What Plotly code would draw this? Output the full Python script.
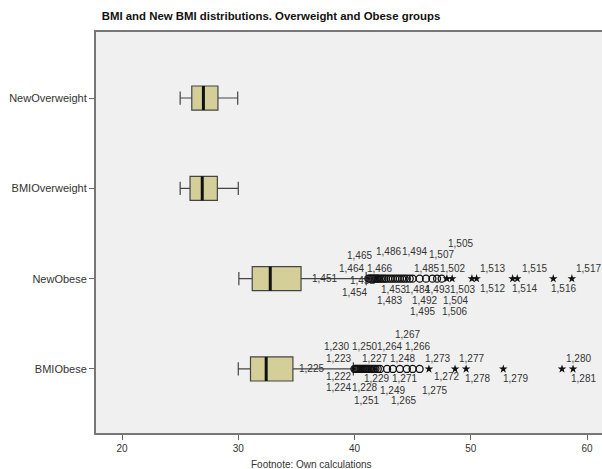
import plotly.graph_objects as go

# ---------------- data ----------------
categories = ["BMIObese", "NewObese", "BMIOverweight", "NewOverweight"]
q1 = [31.05, 31.2, 25.85, 26.0]
median = [32.4, 32.75, 26.9, 27.0]
q3 = [34.7, 35.4, 28.2, 28.25]
lower_whisker = [30.0, 30.05, 25.0, 25.0]
upper_whisker = [39.9, 41.0, 30.0, 29.95]

# outliers (circles) and extreme values (stars)
bmiobese_out = [40.0, 40.1, 40.2, 40.3, 40.4, 40.5, 40.6, 40.7, 40.8, 40.9, 41.0,
                41.1, 41.2, 41.35, 41.5, 41.65, 41.8, 42.0, 42.2, 42.8, 43.3,
                43.9, 44.5, 45.0, 45.6]
bmiobese_ext = [46.4, 48.65, 49.6, 52.8, 57.85, 58.8]
newobese_out = [41.2, 41.3, 41.4, 41.5, 41.6, 41.7, 41.8, 41.9, 42.0, 42.1, 42.25,
                42.4, 42.55, 42.7, 42.9, 43.1, 43.3, 43.5, 43.7, 43.9, 44.1,
                44.3, 44.5, 44.75, 45.0, 45.6, 46.15, 46.7, 47.1, 47.5]
newobese_ext = [47.95, 48.4, 50.1, 50.5, 53.6, 54.0, 57.1, 58.7]

# case labels: text, x value, vertical offset (px)
newobese_labels = [
    ("1,465", 40.47, 23), ("1,486", 42.88, 27), ("1,494", 45.20, 27),
    ("1,507", 47.44, 24), ("1,505", 49.08, 35),
    ("1,464", 39.78, 10), ("1,466", 42.19, 10), ("1,485", 46.15, 10),
    ("1,502", 48.47, 10), ("1,513", 51.91, 10), ("1,515", 55.44, 10),
    ("1,517", 60.17, 10),
    ("1,451", 37.38, 0), ("1,452", 40.65, -2),
    ("1,454", 39.96, -14), ("1,453", 43.31, -11), ("1,484", 45.46, -11),
    ("1,493", 47.10, -11), ("1,503", 49.25, -11), ("1,512", 51.83, -10),
    ("1,514", 54.58, -10), ("1,516", 58.02, -10),
    ("1,483", 42.97, -22), ("1,492", 46.06, -22), ("1,504", 48.65, -22),
    ("1,495", 45.89, -33), ("1,506", 48.56, -33),
]
bmiobese_labels = [
    ("1,267", 44.60, 34),
    ("1,230", 38.49, 22), ("1,250", 40.82, 22), ("1,264", 43.05, 22),
    ("1,266", 45.46, 22),
    ("1,223", 38.58, 10), ("1,227", 41.68, 10), ("1,248", 44.09, 10),
    ("1,273", 47.18, 10), ("1,277", 50.02, 10), ("1,280", 59.23, 10),
    ("1,225", 36.26, 0),
    ("1,222", 38.58, -8), ("1,229", 41.85, -10), ("1,271", 44.26, -10),
    ("1,272", 47.87, -8), ("1,278", 50.62, -10), ("1,279", 53.81, -10),
    ("1,281", 59.74, -10),
    ("1,224", 38.58, -19), ("1,228", 40.90, -19), ("1,249", 43.23, -22),
    ("1,275", 46.84, -22),
    ("1,251", 40.99, -32), ("1,265", 44.18, -32),
]

title = "BMI and New BMI distributions. Overweight and Obese groups"
footnote = "Footnote: Own calculations"

# ---------------- figure ----------------
FONT = "Liberation Sans, Arial, sans-serif"
W, H = 602, 469
ML, MR, MT, MB = 96, 0, 32, 36
PW, PH = W - ML - MR, H - MT - MB
pos = list(range(len(categories)))
half = 0.133

fig = go.Figure()
fig.add_trace(go.Box(
    y=pos, q1=q1, median=median, q3=q3,
    lowerfence=lower_whisker, upperfence=upper_whisker,
    orientation="h", width=2 * half, whiskerwidth=0.55,
    fillcolor="#d4cf98", line=dict(color="#444444", width=1.2),
    boxpoints=False, hoverinfo="skip", showlegend=False,
))

# thick median lines
mx, my = [], []
for p, m in zip(pos, median):
    mx += [m, m, None]
    my += [p - half, p + half, None]
fig.add_trace(go.Scatter(x=mx, y=my, mode="lines",
                         line=dict(color="#111111", width=3),
                         hoverinfo="skip", showlegend=False))

idx = {c: i for i, c in enumerate(categories)}
for cat, outs, exts in [("BMIObese", bmiobese_out, bmiobese_ext),
                        ("NewObese", newobese_out, newobese_ext)]:
    fig.add_trace(go.Scatter(
        x=outs, y=[idx[cat]] * len(outs), mode="markers",
        marker=dict(symbol="circle-open", size=7, color="#111111",
                    line=dict(width=1.3)),
        hoverinfo="skip", showlegend=False))
    fig.add_trace(go.Scatter(
        x=exts, y=[idx[cat]] * len(exts), mode="markers",
        marker=dict(symbol="star", size=6.5, color="#111111"),
        hoverinfo="skip", showlegend=False))

annotations = []
for cat, labels in [("NewObese", newobese_labels), ("BMIObese", bmiobese_labels)]:
    for txt, xv, dy in labels:
        annotations.append(dict(
            x=xv, y=idx[cat], xref="x", yref="y", text=txt, showarrow=False,
            yshift=dy, font=dict(family=FONT, size=10, color="#333333")))

annotations.append(dict(
    x=(311 - ML) / PW, y=-(464 - (MT + PH)) / PH, xref="paper", yref="paper",
    text=footnote, showarrow=False, xanchor="center", yanchor="middle",
    font=dict(family=FONT, size=10, color="#333333")))

fig.update_layout(
    width=W, height=H,
    margin=dict(l=ML, r=MR, t=MT, b=MB),
    paper_bgcolor="white", plot_bgcolor="#f0f0f0",
    title=dict(text=f"<b>{title}</b>", x=271 / W, xanchor="center",
               y=1 - 16 / H, yanchor="middle",
               font=dict(family=FONT, size=11.4, color="#111111")),
    xaxis=dict(range=[17.76, 61.29], tickvals=[20, 30, 40, 50, 60],
               showgrid=False, zeroline=False, automargin=False,
               showline=True, linecolor="#777777", linewidth=2, mirror=True,
               ticks="outside", ticklen=5, tickcolor="#666666",
               tickfont=dict(family=FONT, size=10, color="#333333")),
    yaxis=dict(range=[-0.709, 3.731], tickvals=pos, ticktext=categories,
               showgrid=False, zeroline=False, automargin=False,
               showline=True, linecolor="#777777", linewidth=2, mirror=True,
               ticks="outside", ticklen=5, tickcolor="#666666",
               tickfont=dict(family=FONT, size=11, color="#333333")),
    annotations=annotations,
)

# remove the browser's default page margin so the figure fills the window
fig.write_html(
    "out.html",
    config={"displayModeBar": False},
    post_script="document.body.style.margin='0';"
                "document.body.style.overflow='hidden';",
)
